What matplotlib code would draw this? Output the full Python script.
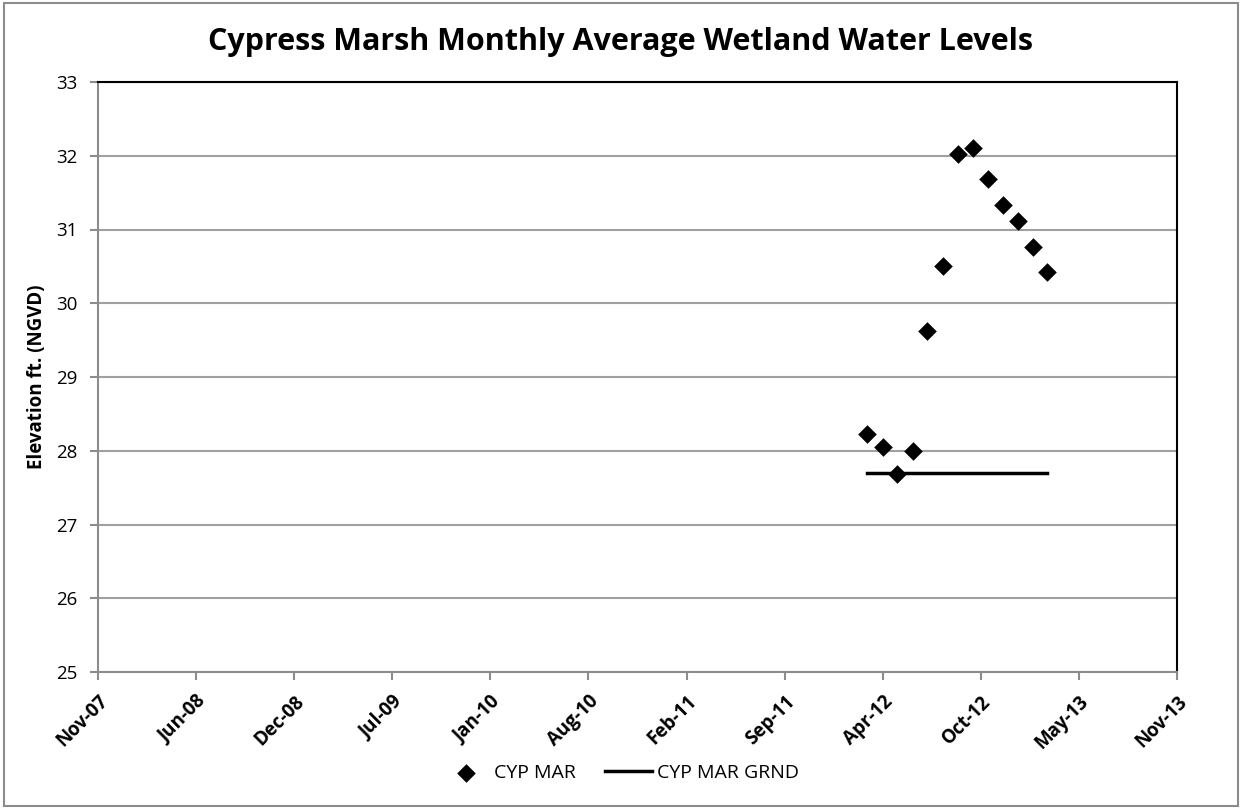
import matplotlib
matplotlib.use("Agg")
import matplotlib.pyplot as plt
import matplotlib.dates as mdates
import numpy as np
from datetime import datetime
from matplotlib.patches import Rectangle

plt.rcParams['font.family'] = ['Open Sans', 'DejaVu Sans']

# Data
mar_dates = ["2012-03-01", "2012-04-01", "2012-05-01", "2012-06-01", "2012-07-01",
             "2012-08-01", "2012-09-01", "2012-10-01", "2012-11-01", "2012-12-01",
             "2013-01-01", "2013-02-01", "2013-03-01"]
mar_values = [28.23, 28.05, 27.69, 27.99, 29.62, 30.50, 32.03, 32.11, 31.68,
              31.33, 31.11, 30.76, 30.42]
grnd_dates = ["2012-03-01", "2013-03-01"]
grnd_values = [27.70, 27.70]

title = "Cypress Marsh Monthly Average Wetland Water Levels"
ylabel = "Elevation ft. (NGVD)"
series_names = ["CYP MAR", "CYP MAR GRND"]

mar_x = [datetime.strptime(d, "%Y-%m-%d") for d in mar_dates]
grnd_x = [datetime.strptime(d, "%Y-%m-%d") for d in grnd_dates]

fig = plt.figure(figsize=(12.41, 8.09), dpi=100)
ax = fig.add_axes([98/1241, 1-672/809, (1177-98)/1241, (672-82)/809])

ax.scatter(mar_x, mar_values, marker='D', s=90, color='black', zorder=3,
           linewidths=0, label=series_names[0])
ax.plot(grnd_x, grnd_values, color='black', lw=2.5, zorder=2, label=series_names[1])

xmin = mdates.date2num(datetime(2007, 11, 20))
xmax = xmin + 2192
ax.set_xlim(xmin, xmax)
ax.set_xticks(np.linspace(xmin, xmax, 12))
ax.xaxis.set_major_formatter(mdates.DateFormatter('%b-%y'))
ax.set_ylim(25, 33)
ax.set_yticks(np.arange(25, 34, 1))

ax.grid(axis='y', color='#a0a0a0', lw=1.5)
ax.set_axisbelow(True)
for s in ['left', 'bottom']:
    ax.spines[s].set_color('#8c8c8c')
    ax.spines[s].set_linewidth(1.5)
for s in ['top', 'right']:
    ax.spines[s].set_color('black')
    ax.spines[s].set_linewidth(1.5)

ax.tick_params(axis='both', direction='out', length=6, width=1.5, color='#8c8c8c')
ax.tick_params(axis='y', labelsize=13.5, pad=9)
ax.tick_params(axis='x', labelsize=13.5, pad=8)
for lbl in ax.get_xticklabels():
    lbl.set_rotation(45)
    lbl.set_ha('right')
    lbl.set_va('top')
    lbl.set_rotation_mode('anchor')
    lbl.set_fontweight('bold')

ax.set_ylabel(ylabel, fontsize=13.5, fontweight='bold', labelpad=6)
fig.text(0.5, 1-42/809, title, ha='center', va='center', fontsize=22, fontweight='bold')

fig.legend(loc='center', bbox_to_anchor=(0.5, 1-773/809), ncol=2, frameon=False,
           fontsize=14, handlelength=2.4, columnspacing=1.5, handletextpad=0.25)

fig.patches.append(Rectangle((4/1241, 3/809), 1234/1241, 803/809, transform=fig.transFigure,
                             fill=False, edgecolor='#8c8c8c', lw=1.5))

fig.savefig("out.png", dpi=100)
